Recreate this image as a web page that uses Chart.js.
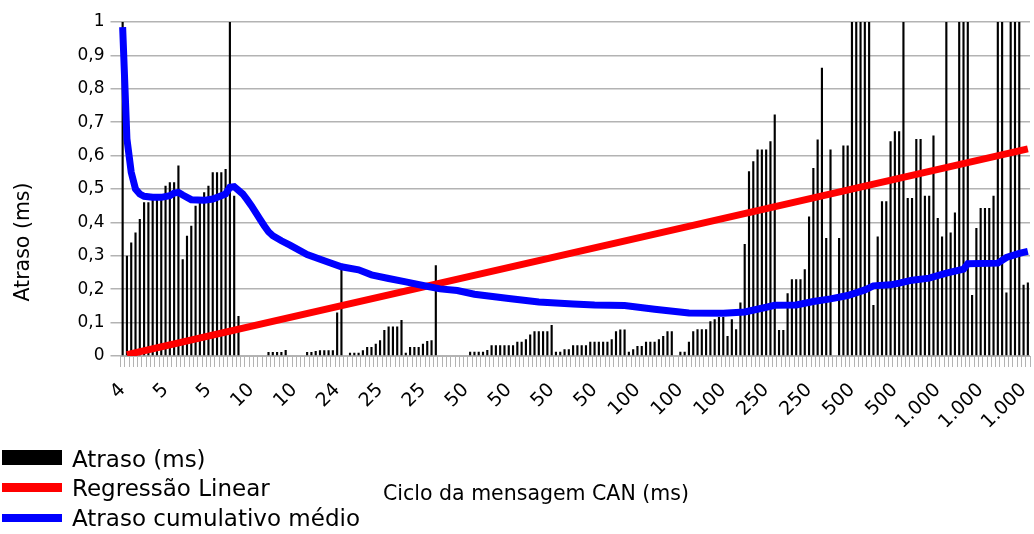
<!DOCTYPE html>
<html>
<head>
<meta charset="utf-8">
<script src="https://cdn.jsdelivr.net/npm/chart.js@4.4.1/dist/chart.umd.min.js"></script>
<style>
  html, body { margin: 0; padding: 0; background: #fff; }
  #wrap { position: relative; width: 1034px; height: 534px; overflow: hidden; font-family: 'DejaVu Sans', sans-serif; color: #000; }
  #c { position: absolute; left: 0; top: 0; }
  .key { position: absolute; left: 2px; width: 60px; }
  .lbl { position: absolute; left: 72px; font-size: 23px; line-height: 26px; white-space: nowrap; }
  #xtitle { position: absolute; left: 383px; top: 480px; font-size: 20.5px; line-height: 26px; white-space: nowrap; }
  #ytitle { position: absolute; left: -78px; top: 230px; width: 200px; text-align: center; font-size: 20.5px; line-height: 24px; white-space: nowrap; transform: rotate(-90deg); }
</style>
</head>
<body>
<div id="wrap">
  <canvas id="c" width="1034" height="534"></canvas>
  <div id="ytitle">Atraso (ms)</div>
  <div class="key" style="top:450px;height:15px;background:#000"></div>
  <div class="lbl" style="top:446px">Atraso (ms)</div>
  <div class="key" style="top:483px;height:9px;background:#ff0000"></div>
  <div class="lbl" style="top:475px">Regressão Linear</div>
  <div class="key" style="top:514px;height:8px;background:#0000ff"></div>
  <div class="lbl" style="top:505px">Atraso cumulativo médio</div>
  <div id="xtitle">Ciclo da mensagem CAN (ms)</div>
</div>
<script>
// Delay per CAN message (ms), messages ordered by cycle time
const delayMs = [
  1.0, 0.30, 0.34, 0.37, 0.41, 0.46, 0.46, 0.47, 0.47, 0.47,
  0.51, 0.52, 0.52, 0.57, 0.29, 0.36, 0.39, 0.45, 0.46, 0.49,
  0.51, 0.55, 0.55, 0.55, 0.56, 1.0, 0.48, 0.12,
  0, 0, 0, 0, 0, 0,
  0.012, 0.012, 0.012, 0.012, 0.018,
  0, 0, 0, 0,
  0.012, 0.012, 0.015, 0.017, 0.017, 0.017, 0.017, 0.13, 0.265,
  0,
  0.01, 0.01, 0.01, 0.017, 0.027, 0.027, 0.037, 0.047, 0.078, 0.088,
  0.088, 0.088, 0.108, 0.01, 0.027, 0.027, 0.027, 0.037, 0.045, 0.047, 0.272,
  0, 0, 0, 0, 0, 0, 0,
  0.013, 0.013, 0.013, 0.013, 0.018, 0.032, 0.032, 0.032, 0.032, 0.032,
  0.032, 0.043, 0.043, 0.05, 0.064, 0.074, 0.074, 0.074, 0.074, 0.093,
  0.013, 0.013, 0.02, 0.02, 0.032, 0.032, 0.032, 0.032, 0.043, 0.043, 0.043,
  0.043, 0.043, 0.05, 0.074, 0.079, 0.079, 0.013, 0.02, 0.03, 0.03,
  0.043, 0.043, 0.043, 0.05, 0.06, 0.074, 0.074,
  0,
  0.013, 0.013, 0.043, 0.074, 0.08, 0.08, 0.08, 0.104, 0.11, 0.117,
  0.117, 0.06, 0.11, 0.08, 0.16, 0.335,
  0.553, 0.583, 0.618, 0.618, 0.618, 0.643, 0.723, 0.078, 0.078, 0.188,
  0.23, 0.23, 0.23, 0.26, 0.418, 0.563, 0.648, 0.863, 0.353, 0.618,
  0,
  0.353, 0.63, 0.63, 1.0, 1.0, 1.0, 1.0, 1.0,
  0.153, 0.358, 0.463, 0.463, 0.643, 0.673, 0.673, 1.0, 0.473, 0.473,
  0.65, 0.65, 0.48, 0.48, 0.66, 0.413, 0.358, 1.0, 0.37, 0.43,
  1.0, 1.0, 1.0, 0.183, 0.383, 0.443, 0.443, 0.443, 0.48, 1.0,
  1.0, 0.19, 1.0, 1.0, 1.0, 0.213, 0.22
];

// Cycle time shown under every tenth message
const cycleTickText = ['4', '5', '5', '10', '10', '24', '25', '25', '50', '50', '50',
  '50', '100', '100', '100', '250', '250', '500', '500', '1.000', '1.000', '1.000'];
const tickStep = 10;

// Linear regression line: message index and value at both ends
const regressionAt = [1, 211];
const regressionValues = [0.004, 0.62];

// Cumulative mean delay, read at these message indices
const cumulativeAt = [0, 1, 2, 3, 4, 5, 7, 9, 11, 12, 13, 14, 16, 19, 21, 23, 24, 25, 26, 28,
  29, 30, 31, 32, 33, 34, 35, 37, 39, 43, 47, 51, 55, 58, 62, 66, 70, 74, 78, 82, 90, 97, 105, 110,
  117, 124, 132, 140, 145, 149, 152, 157, 161, 165, 169, 173, 175, 179, 181,
  184, 188, 192, 196, 197, 204, 206, 209, 211];
const cumulativeValues = [0.985, 0.65, 0.55, 0.50, 0.485, 0.478, 0.475, 0.475, 0.48, 0.488, 0.49, 0.482,
  0.468, 0.466, 0.47, 0.48, 0.485, 0.505, 0.507, 0.485,
  0.468, 0.45, 0.43, 0.41, 0.39, 0.372, 0.36, 0.345, 0.332, 0.304, 0.285, 0.267, 0.258, 0.243, 0.232, 0.222, 0.211,
  0.201, 0.196, 0.185, 0.172, 0.162, 0.156, 0.153, 0.151, 0.14, 0.129, 0.128, 0.132,
  0.143, 0.152, 0.153, 0.163, 0.171, 0.181, 0.198, 0.21, 0.213, 0.218,
  0.227, 0.233, 0.248, 0.26, 0.276, 0.278, 0.295, 0.307, 0.313];

const messageIndex = delayMs.map((_, i) => i);

function sparse(at, values) {
  const out = delayMs.map(() => null);
  at.forEach((k, j) => { out[k] = values[j]; });
  return out;
}

const fontFamily = "'DejaVu Sans', sans-serif";
const gridGray = '#b3b3b3';

new Chart(document.getElementById('c'), {
  type: 'bar',
  data: {
    labels: messageIndex,
    datasets: [
      {
        type: 'line',
        label: 'Atraso cumulativo médio',
        data: sparse(cumulativeAt, cumulativeValues),
        borderColor: '#0000ff',
        borderWidth: 7,
        pointRadius: 0,
        spanGaps: true,
        tension: 0,
        order: 1
      },
      {
        type: 'line',
        label: 'Regressão Linear',
        data: sparse(regressionAt, regressionValues),
        borderColor: '#ff0000',
        borderWidth: 7,
        pointRadius: 0,
        spanGaps: true,
        order: 2
      },
      {
        label: 'Atraso (ms)',
        data: delayMs,
        backgroundColor: '#000000',
        barPercentage: 0.5,
        categoryPercentage: 1.0,
        order: 3
      }
    ]
  },
  options: {
    responsive: false,
    animation: false,
    devicePixelRatio: 1,
    layout: { padding: { top: 22, right: 4, left: 0, bottom: 0 } },
    plugins: { legend: { display: false }, tooltip: { enabled: false } },
    scales: {
      x: {
        offset: true,
        grid: { offset: true, drawOnChartArea: false, drawTicks: true, tickLength: 11, color: gridGray, lineWidth: 1 },
        border: { color: gridGray, width: 1 },
        ticks: {
          autoSkip: false,
          minRotation: 45,
          maxRotation: 45,
          padding: 12,
          color: '#000',
          font: { family: fontFamily, size: 19 },
          callback: (v, i) => (i % tickStep === 0 ? cycleTickText[i / tickStep] : '')
        },
        afterFit: (s) => { s.height = 178; s.paddingLeft = 0; s.paddingRight = 0; }
      },
      y: {
        min: 0,
        max: 1,
        grid: { color: gridGray, lineWidth: 1.5, tickLength: 10 },
        border: { display: false },
        ticks: {
          stepSize: 0.1,
          padding: 6,
          color: '#000',
          font: { family: fontFamily, size: 17 },
          callback: (v) => (v === 0 ? '0' : v === 1 ? '1' : v.toFixed(1).replace('.', ','))
        },
        afterFit: (s) => { s.width = 120.5; s.paddingTop = 0; s.paddingBottom = 0; }
      }
    }
  }
});
</script>
</body>
</html>
